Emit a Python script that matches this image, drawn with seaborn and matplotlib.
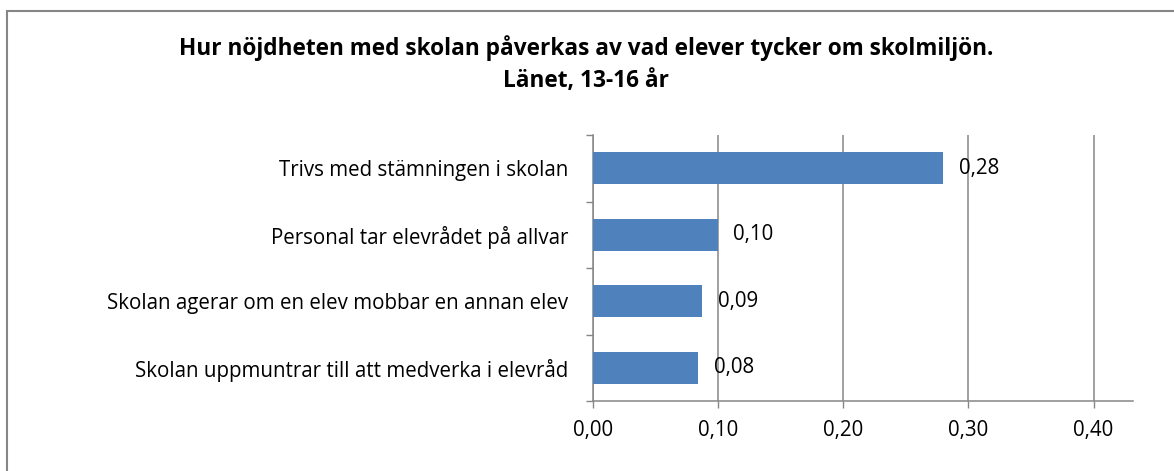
import matplotlib
matplotlib.use("Agg")
import matplotlib.pyplot as plt
from matplotlib.patches import Rectangle
from matplotlib.ticker import FixedLocator
import seaborn as sns
import pandas as pd

# Data
categories = [
    "Trivs med stämningen i skolan",
    "Personal tar elevrådet på allvar",
    "Skolan agerar om en elev mobbar en annan elev",
    "Skolan uppmuntrar till att medverka i elevråd",
]
values = [0.280, 0.0995, 0.087, 0.084]
xticks = [0.0, 0.1, 0.2, 0.3, 0.4]
title_lines = [
    "Hur nöjdheten med skolan påverkas av vad elever tycker om skolmiljön.",
    "Länet, 13-16 år",
]

sns.set_theme(style="white")
plt.rcParams["font.family"] = ["Open Sans", "DejaVu Sans"]

BAR = "#4F81BD"
GRID = "#868686"
FS = 14.8

df = pd.DataFrame({"kategori": categories, "värde": values})

fig = plt.figure(figsize=(11.74, 4.71), dpi=100)
ax = fig.add_axes([593 / 1174, 1 - 401 / 471, (1133 - 593) / 1174, (401 - 135) / 471])

sns.barplot(data=df, x="värde", y="kategori", orient="h", color=BAR,
            width=0.48, saturation=1, linewidth=0, ax=ax, zorder=3)

ax.set_xlim(0, 0.4315)
ax.set_ylim(3.5, -0.5)
ax.set_xlabel("")
ax.set_ylabel("")

ax.set_xticks(xticks)
ax.set_xticklabels([f"{t:.2f}".replace(".", ",") for t in xticks], fontsize=FS, color="#000000")
ax.tick_params(axis="x", direction="out", length=5, width=1.0, color=GRID, pad=9, bottom=True)

ax.yaxis.set_minor_locator(FixedLocator([-0.5, 0.5, 1.5, 2.5, 3.5]))
ax.tick_params(axis="y", which="major", length=0, pad=18, labelsize=FS, labelcolor="#000000")
ax.tick_params(axis="y", which="minor", direction="out", length=5, width=1.0, color=GRID, left=True)

ax.grid(axis="x", color=GRID, linewidth=1.1, zorder=0)
ax.set_axisbelow(True)
for side in ["top", "right"]:
    ax.spines[side].set_visible(False)
for side in ["left", "bottom"]:
    ax.spines[side].set_color(GRID)
    ax.spines[side].set_linewidth(1.1)

# Value labels to the right of each bar
for i, v in enumerate(values):
    ax.annotate(f"{v:.2f}".replace(".", ","), xy=(v, i), xytext=(11.5, 0),
                textcoords="offset points", va="center", ha="left",
                fontsize=FS, color="#000000", zorder=4)

# Two-line bold title
fig.text(0.4995, 1 - 48 / 471, title_lines[0], ha="center", va="center",
         fontsize=16.3, fontweight="bold", color="#000000")
fig.text(0.4995, 1 - 81 / 471, title_lines[1], ha="center", va="center",
         fontsize=16.3, fontweight="bold", color="#000000")

# Chart frame
fig.patches.append(Rectangle((6.5 / 1174, -0.05), 1.2, 1 - 10.5 / 471 + 0.05,
                             transform=fig.transFigure, fill=False,
                             edgecolor=GRID, linewidth=1.5, zorder=0))

fig.savefig("out.png", dpi=100)
